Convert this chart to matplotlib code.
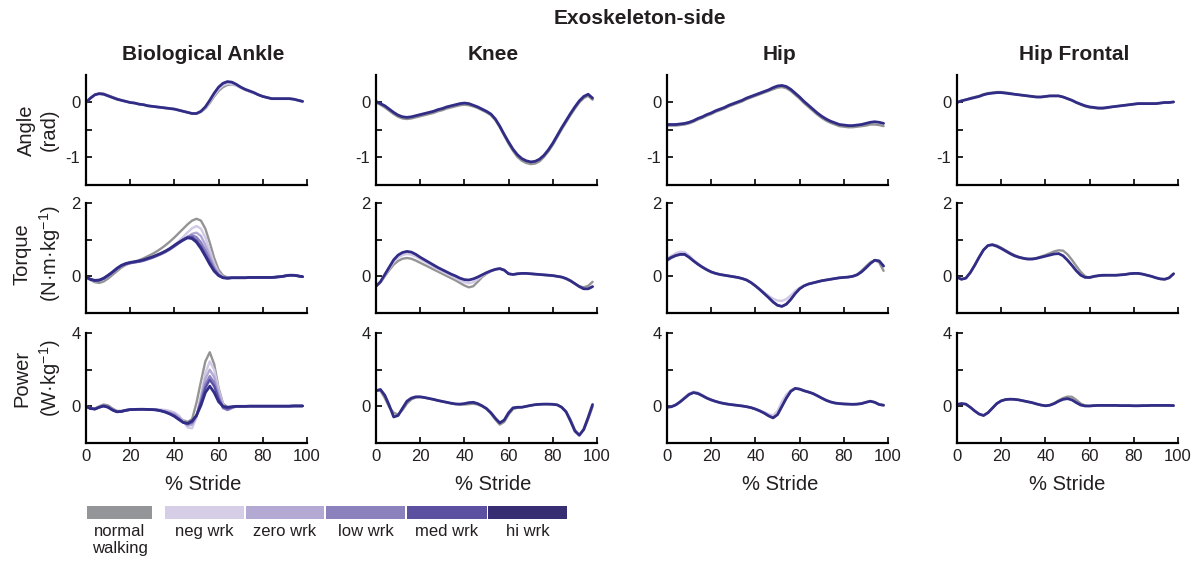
import matplotlib.pyplot as plt
import numpy as np
from matplotlib.patches import Rectangle

plt.rcParams['font.family'] = ['Liberation Sans', 'DejaVu Sans']
plt.rcParams['mathtext.fontset'] = 'custom'
plt.rcParams['mathtext.rm'] = 'Liberation Sans'
plt.rcParams['mathtext.default'] = 'regular'
plt.rcParams['axes.unicode_minus'] = False

TEXT = '#231f20'

# % stride samples, every 2 %
stride = np.arange(0, 100, 2)

legend_labels = ['normal\nwalking', 'neg wrk', 'zero wrk', 'low wrk', 'med wrk', 'hi wrk']
bar_colors = ['#939598', '#d6cde6', '#b3a9d2', '#8b81bc', '#5c50a0', '#372d72']
line_colors = ['#949494', '#d2c9e6', '#b2a8d4', '#8a80c0', '#5a4fa8', '#312c86']

joint_titles = ['Biological Ankle', 'Knee', 'Hip', 'Hip Frontal']
row_labels = ['Angle\n(rad)', 'Torque\n(N·m·kg$^{-1}$)', 'Power\n(W·kg$^{-1}$)']
row_ylims = [(-1.5, 0.5), (-1, 2), (-2, 4)]
row_yticks = [[-1, -0.5, 0], [0, 1, 2], [0, 2, 4]]
row_yticklabels = [['-1', '', '0'], ['0', '', '2'], ['0', '', '4']]
xticks = [0, 20, 40, 60, 80, 100]

# ---- biological ankle ----
ankle_angle_hi = [
    0.00, 0.08, 0.14, 0.16, 0.15, 0.12, 0.09, 0.06, 0.04, 0.02,
    0.00, -0.01, -0.03, -0.04, -0.06, -0.07, -0.08, -0.09, -0.10, -0.11,
    -0.12, -0.14, -0.16, -0.18, -0.20, -0.20, -0.16, -0.08, 0.04, 0.17,
    0.28, 0.35, 0.38, 0.37, 0.33, 0.28, 0.24, 0.21, 0.18, 0.14,
    0.11, 0.09, 0.07, 0.07, 0.07, 0.07, 0.07, 0.06, 0.04, 0.02]
ankle_angle_neg = [
    0.00, 0.08, 0.14, 0.16, 0.15, 0.12, 0.09, 0.06, 0.04, 0.02,
    0.00, -0.01, -0.03, -0.04, -0.06, -0.07, -0.08, -0.09, -0.10, -0.11,
    -0.12, -0.14, -0.16, -0.18, -0.20, -0.20, -0.17, -0.10, 0.01, 0.13,
    0.24, 0.31, 0.34, 0.34, 0.31, 0.27, 0.23, 0.20, 0.17, 0.14,
    0.11, 0.09, 0.07, 0.07, 0.07, 0.07, 0.07, 0.06, 0.04, 0.02]
ankle_angle_normal = [
    0.00, 0.08, 0.14, 0.17, 0.16, 0.13, 0.10, 0.07, 0.04, 0.02,
    0.00, -0.01, -0.03, -0.04, -0.06, -0.07, -0.08, -0.09, -0.10, -0.11,
    -0.12, -0.14, -0.16, -0.18, -0.20, -0.20, -0.17, -0.11, -0.01, 0.11,
    0.21, 0.28, 0.32, 0.33, 0.31, 0.27, 0.23, 0.20, 0.17, 0.14,
    0.11, 0.09, 0.07, 0.07, 0.07, 0.07, 0.07, 0.06, 0.04, 0.02]

ankle_torque_normal = [
    -0.02, -0.10, -0.16, -0.18, -0.14, -0.06, 0.04, 0.14, 0.24, 0.31,
    0.36, 0.40, 0.44, 0.49, 0.55, 0.61, 0.68, 0.76, 0.85, 0.95,
    1.06, 1.18, 1.30, 1.42, 1.52, 1.57, 1.52, 1.30, 0.92, 0.50,
    0.18, 0.02, -0.03, -0.04, -0.04, -0.04, -0.04, -0.03, -0.03, -0.03,
    -0.03, -0.03, -0.03, -0.02, -0.01, 0.01, 0.03, 0.03, 0.01, -0.01]
ankle_torque_neg = [
    -0.02, -0.09, -0.13, -0.12, -0.07, 0.01, 0.10, 0.20, 0.28, 0.33,
    0.36, 0.38, 0.40, 0.43, 0.47, 0.51, 0.56, 0.62, 0.69, 0.77,
    0.86, 0.96, 1.08, 1.20, 1.31, 1.37, 1.30, 1.06, 0.70, 0.35,
    0.10, -0.02, -0.05, -0.04, -0.04, -0.04, -0.04, -0.03, -0.03, -0.03,
    -0.03, -0.03, -0.03, -0.02, -0.01, 0.01, 0.03, 0.03, 0.01, -0.01]
ankle_torque_zero = [
    -0.02, -0.09, -0.13, -0.12, -0.07, 0.01, 0.10, 0.20, 0.28, 0.33,
    0.36, 0.38, 0.40, 0.42, 0.46, 0.50, 0.55, 0.60, 0.66, 0.73,
    0.81, 0.90, 0.99, 1.08, 1.16, 1.19, 1.10, 0.86, 0.56, 0.27,
    0.07, -0.03, -0.05, -0.04, -0.04, -0.04, -0.04, -0.03, -0.03, -0.03,
    -0.03, -0.03, -0.03, -0.02, -0.01, 0.01, 0.03, 0.03, 0.01, -0.01]
ankle_torque_low = [
    -0.02, -0.09, -0.12, -0.11, -0.06, 0.02, 0.10, 0.20, 0.28, 0.33,
    0.36, 0.38, 0.40, 0.43, 0.47, 0.51, 0.56, 0.61, 0.67, 0.74,
    0.82, 0.91, 1.00, 1.08, 1.12, 1.07, 0.93, 0.71, 0.46, 0.22,
    0.05, -0.03, -0.05, -0.04, -0.04, -0.04, -0.04, -0.03, -0.03, -0.03,
    -0.03, -0.03, -0.03, -0.02, -0.01, 0.01, 0.03, 0.03, 0.01, -0.01]
ankle_torque_med = [
    -0.02, -0.08, -0.12, -0.11, -0.06, 0.02, 0.11, 0.21, 0.29, 0.34,
    0.37, 0.39, 0.41, 0.44, 0.48, 0.52, 0.57, 0.62, 0.68, 0.75,
    0.85, 0.93, 1.01, 1.07, 1.07, 0.98, 0.82, 0.60, 0.38, 0.17,
    0.03, -0.04, -0.05, -0.04, -0.04, -0.04, -0.04, -0.03, -0.03, -0.03,
    -0.03, -0.03, -0.03, -0.02, -0.01, 0.01, 0.03, 0.03, 0.01, -0.01]
ankle_torque_hi = [
    -0.02, -0.08, -0.11, -0.10, -0.05, 0.03, 0.12, 0.22, 0.30, 0.35,
    0.38, 0.40, 0.42, 0.45, 0.49, 0.53, 0.58, 0.63, 0.69, 0.76,
    0.84, 0.92, 0.99, 1.05, 1.03, 0.93, 0.76, 0.55, 0.33, 0.14,
    0.02, -0.04, -0.05, -0.04, -0.04, -0.04, -0.04, -0.03, -0.03, -0.03,
    -0.03, -0.03, -0.03, -0.02, -0.01, 0.01, 0.03, 0.03, 0.01, -0.01]

ankle_power_normal = [
    0.00, -0.10, -0.12, 0.00, 0.10, 0.05, -0.12, -0.25, -0.25, -0.20,
    -0.17, -0.16, -0.16, -0.16, -0.16, -0.16, -0.18, -0.22, -0.28, -0.36,
    -0.46, -0.60, -0.76, -0.85, -0.70, 0.20, 1.35, 2.45, 2.95, 2.30,
    1.00, 0.15, -0.05, -0.05, 0.00, 0.00, 0.00, 0.01, 0.01, 0.01,
    0.01, 0.01, 0.01, 0.01, 0.01, 0.01, 0.01, 0.02, 0.02, 0.02]
ankle_power_neg = [
    0.00, -0.11, -0.14, -0.04, 0.03, -0.04, -0.18, -0.28, -0.27, -0.21,
    -0.17, -0.16, -0.16, -0.16, -0.16, -0.16, -0.17, -0.18, -0.20, -0.25,
    -0.33, -0.50, -0.80, -1.15, -1.20, -0.60, 0.60, 1.80, 2.45, 2.00,
    0.90, 0.10, -0.15, -0.08, 0.00, 0.00, 0.00, 0.01, 0.01, 0.01,
    0.01, 0.01, 0.01, 0.01, 0.01, 0.01, 0.01, 0.02, 0.02, 0.02]
ankle_power_zero = [
    0.00, -0.11, -0.14, -0.04, 0.03, -0.04, -0.19, -0.29, -0.27, -0.21,
    -0.17, -0.16, -0.16, -0.16, -0.16, -0.17, -0.19, -0.22, -0.27, -0.33,
    -0.40, -0.58, -0.85, -1.05, -1.00, -0.55, 0.45, 1.50, 2.00, 1.60,
    0.70, 0.00, -0.20, -0.10, 0.00, 0.00, 0.00, 0.01, 0.01, 0.01,
    0.01, 0.01, 0.01, 0.01, 0.01, 0.01, 0.01, 0.02, 0.02, 0.02]
ankle_power_low = [
    0.00, -0.12, -0.15, -0.05, 0.02, -0.05, -0.20, -0.30, -0.28, -0.22,
    -0.18, -0.17, -0.16, -0.16, -0.17, -0.18, -0.20, -0.24, -0.30, -0.38,
    -0.48, -0.65, -0.87, -0.98, -0.90, -0.50, 0.30, 1.20, 1.65, 1.30,
    0.50, -0.10, -0.20, -0.08, 0.00, 0.00, 0.00, 0.01, 0.01, 0.01,
    0.01, 0.01, 0.01, 0.01, 0.01, 0.01, 0.01, 0.02, 0.02, 0.02]
ankle_power_med = [
    0.00, -0.12, -0.15, -0.05, 0.02, -0.05, -0.20, -0.30, -0.28, -0.22,
    -0.18, -0.17, -0.16, -0.16, -0.17, -0.18, -0.20, -0.25, -0.32, -0.41,
    -0.52, -0.70, -0.88, -0.95, -0.85, -0.50, 0.20, 1.00, 1.45, 1.10,
    0.40, -0.05, -0.12, -0.05, 0.00, 0.00, 0.00, 0.01, 0.01, 0.01,
    0.01, 0.01, 0.01, 0.01, 0.01, 0.01, 0.01, 0.02, 0.02, 0.02]
ankle_power_hi = [
    0.00, -0.12, -0.15, -0.05, 0.02, -0.05, -0.20, -0.30, -0.28, -0.22,
    -0.18, -0.17, -0.16, -0.16, -0.17, -0.18, -0.20, -0.25, -0.32, -0.42,
    -0.55, -0.72, -0.88, -0.93, -0.80, -0.50, 0.05, 0.75, 1.10, 0.75,
    0.25, 0.00, -0.05, -0.02, 0.00, 0.00, 0.00, 0.01, 0.01, 0.01,
    0.01, 0.01, 0.01, 0.01, 0.01, 0.01, 0.01, 0.02, 0.02, 0.02]

# ---- knee ----
knee_angle_normal = [
    0.00, -0.04, -0.09, -0.15, -0.21, -0.26, -0.29, -0.30, -0.29, -0.27,
    -0.25, -0.23, -0.21, -0.19, -0.16, -0.14, -0.11, -0.09, -0.07, -0.05,
    -0.04, -0.05, -0.07, -0.10, -0.14, -0.18, -0.23, -0.32, -0.45, -0.60,
    -0.75, -0.88, -0.99, -1.06, -1.10, -1.12, -1.11, -1.07, -0.99, -0.89,
    -0.77, -0.63, -0.49, -0.36, -0.23, -0.11, 0.00, 0.08, 0.12, 0.05]
knee_angle_hi = [
    0.02, -0.02, -0.06, -0.12, -0.18, -0.23, -0.26, -0.27, -0.26, -0.24,
    -0.22, -0.20, -0.18, -0.16, -0.13, -0.11, -0.08, -0.06, -0.04, -0.02,
    -0.01, -0.02, -0.05, -0.08, -0.12, -0.16, -0.21, -0.30, -0.43, -0.58,
    -0.72, -0.85, -0.95, -1.02, -1.06, -1.08, -1.07, -1.03, -0.96, -0.86,
    -0.74, -0.60, -0.46, -0.33, -0.20, -0.08, 0.03, 0.11, 0.15, 0.08]

knee_torque_normal = [
    -0.27, -0.17, 0.00, 0.17, 0.32, 0.42, 0.48, 0.50, 0.48, 0.43,
    0.37, 0.31, 0.25, 0.19, 0.13, 0.07, 0.01, -0.05, -0.11, -0.18,
    -0.25, -0.30, -0.27, -0.15, -0.02, 0.07, 0.14, 0.19, 0.22, 0.17,
    0.07, 0.05, 0.07, 0.08, 0.08, 0.07, 0.06, 0.05, 0.04, 0.03,
    0.02, 0.00, -0.02, -0.07, -0.13, -0.20, -0.27, -0.30, -0.26, -0.15]
knee_torque_neg = [
    -0.27, -0.16, 0.02, 0.21, 0.39, 0.51, 0.58, 0.61, 0.59, 0.54,
    0.47, 0.40, 0.33, 0.26, 0.19, 0.13, 0.07, 0.01, -0.05, -0.11,
    -0.16, -0.19, -0.16, -0.08, 0.01, 0.08, 0.14, 0.19, 0.21, 0.17,
    0.07, 0.05, 0.07, 0.08, 0.08, 0.07, 0.06, 0.05, 0.04, 0.03,
    0.02, 0.00, -0.02, -0.06, -0.12, -0.20, -0.28, -0.34, -0.34, -0.28]
knee_torque_hi = [
    -0.27, -0.15, 0.05, 0.25, 0.45, 0.58, 0.65, 0.68, 0.66, 0.60,
    0.52, 0.45, 0.38, 0.31, 0.24, 0.18, 0.12, 0.06, 0.01, -0.05,
    -0.09, -0.10, -0.07, -0.02, 0.04, 0.10, 0.15, 0.19, 0.21, 0.17,
    0.07, 0.05, 0.07, 0.08, 0.08, 0.07, 0.06, 0.05, 0.04, 0.03,
    0.02, 0.00, -0.02, -0.06, -0.12, -0.20, -0.28, -0.34, -0.34, -0.28]

knee_power_normal = [
    0.85, 0.85, 0.45, -0.05, -0.35, -0.45, -0.20, 0.15, 0.38, 0.48,
    0.50, 0.47, 0.42, 0.37, 0.31, 0.26, 0.21, 0.16, 0.12, 0.10,
    0.10, 0.12, 0.14, 0.10, 0.00, -0.15, -0.40, -0.72, -1.00, -0.85,
    -0.45, -0.15, -0.08, -0.05, 0.00, 0.05, 0.09, 0.11, 0.12, 0.12,
    0.11, 0.08, -0.04, -0.28, -0.72, -1.28, -1.55, -1.30, -0.70, -0.02]
knee_power_hi = [
    0.85, 0.92, 0.60, 0.05, -0.58, -0.50, -0.10, 0.28, 0.45, 0.52,
    0.52, 0.48, 0.43, 0.38, 0.32, 0.27, 0.22, 0.17, 0.13, 0.12,
    0.15, 0.20, 0.22, 0.15, 0.03, -0.12, -0.35, -0.65, -0.90, -0.75,
    -0.35, -0.08, -0.05, -0.05, 0.00, 0.05, 0.09, 0.11, 0.12, 0.12,
    0.11, 0.08, -0.05, -0.30, -0.80, -1.35, -1.58, -1.25, -0.60, 0.10]

# ---- hip ----
hip_angle_normal = [
    -0.42, -0.42, -0.42, -0.41, -0.40, -0.38, -0.35, -0.31, -0.28, -0.24,
    -0.21, -0.17, -0.14, -0.11, -0.07, -0.04, -0.01, 0.02, 0.06, 0.09,
    0.12, 0.15, 0.18, 0.21, 0.24, 0.27, 0.28, 0.26, 0.21, 0.14,
    0.07, -0.01, -0.08, -0.15, -0.22, -0.28, -0.33, -0.37, -0.40, -0.43,
    -0.44, -0.45, -0.45, -0.44, -0.43, -0.42, -0.40, -0.40, -0.41, -0.43]
hip_angle_hi = [
    -0.40, -0.40, -0.40, -0.39, -0.38, -0.36, -0.33, -0.29, -0.26, -0.22,
    -0.19, -0.15, -0.12, -0.09, -0.05, -0.02, 0.01, 0.04, 0.08, 0.11,
    0.14, 0.17, 0.20, 0.23, 0.27, 0.30, 0.31, 0.29, 0.24, 0.17,
    0.10, 0.02, -0.05, -0.12, -0.19, -0.25, -0.30, -0.34, -0.37, -0.40,
    -0.41, -0.42, -0.42, -0.41, -0.40, -0.38, -0.36, -0.35, -0.36, -0.38]

hip_torque_normal = [
    0.42, 0.50, 0.56, 0.59, 0.59, 0.52, 0.42, 0.33, 0.25, 0.18,
    0.12, 0.08, 0.05, 0.03, 0.01, -0.01, -0.03, -0.06, -0.10, -0.17,
    -0.26, -0.36, -0.47, -0.58, -0.70, -0.79, -0.82, -0.76, -0.63, -0.47,
    -0.34, -0.26, -0.21, -0.18, -0.15, -0.12, -0.10, -0.08, -0.06, -0.04,
    -0.03, -0.02, 0.00, 0.05, 0.15, 0.27, 0.38, 0.44, 0.38, 0.15]
hip_torque_neg = [
    0.47, 0.56, 0.63, 0.67, 0.66, 0.57, 0.45, 0.35, 0.26, 0.19,
    0.12, 0.08, 0.05, 0.03, 0.01, -0.01, -0.03, -0.06, -0.10, -0.17,
    -0.26, -0.35, -0.44, -0.53, -0.61, -0.66, -0.67, -0.62, -0.52, -0.40,
    -0.31, -0.25, -0.21, -0.18, -0.15, -0.12, -0.10, -0.08, -0.06, -0.04,
    -0.03, -0.02, 0.00, 0.04, 0.12, 0.23, 0.35, 0.44, 0.42, 0.28]
hip_torque_hi = [
    0.45, 0.52, 0.57, 0.60, 0.60, 0.52, 0.42, 0.33, 0.25, 0.18,
    0.12, 0.08, 0.05, 0.03, 0.01, -0.01, -0.03, -0.06, -0.10, -0.17,
    -0.26, -0.36, -0.47, -0.58, -0.70, -0.79, -0.82, -0.76, -0.63, -0.47,
    -0.34, -0.26, -0.21, -0.18, -0.15, -0.12, -0.10, -0.08, -0.06, -0.04,
    -0.03, -0.02, 0.00, 0.04, 0.12, 0.23, 0.35, 0.44, 0.42, 0.28]

hip_power_neg = [
    -0.05, -0.02, 0.09, 0.28, 0.50, 0.70, 0.80, 0.75, 0.62, 0.48,
    0.37, 0.28, 0.21, 0.15, 0.11, 0.08, 0.05, 0.02, -0.02, -0.07,
    -0.14, -0.22, -0.32, -0.42, -0.50, -0.25, 0.25, 0.65, 0.88, 0.98,
    0.94, 0.85, 0.78, 0.70, 0.58, 0.45, 0.33, 0.24, 0.18, 0.15,
    0.13, 0.12, 0.11, 0.12, 0.15, 0.22, 0.28, 0.22, 0.10, 0.06]
hip_power_hi = [
    -0.05, -0.02, 0.08, 0.25, 0.45, 0.65, 0.75, 0.70, 0.58, 0.45,
    0.35, 0.27, 0.20, 0.15, 0.11, 0.08, 0.05, 0.02, -0.02, -0.07,
    -0.15, -0.25, -0.37, -0.52, -0.63, -0.45, 0.00, 0.45, 0.82, 0.98,
    0.94, 0.85, 0.78, 0.70, 0.58, 0.45, 0.33, 0.24, 0.18, 0.15,
    0.13, 0.12, 0.11, 0.12, 0.15, 0.22, 0.28, 0.22, 0.10, 0.06]

# ---- hip frontal ----
hipf_angle_normal = [
    0.00, 0.03, 0.05, 0.08, 0.10, 0.12, 0.15, 0.17, 0.18, 0.19,
    0.19, 0.18, 0.17, 0.15, 0.14, 0.13, 0.12, 0.11, 0.10, 0.10,
    0.11, 0.12, 0.12, 0.12, 0.10, 0.07, 0.04, 0.00, -0.04, -0.07,
    -0.09, -0.10, -0.11, -0.11, -0.10, -0.08, -0.07, -0.06, -0.05, -0.04,
    -0.03, -0.02, -0.02, -0.02, -0.02, -0.02, -0.01, 0.00, 0.00, 0.01]
hipf_angle_hi = [
    0.00, 0.03, 0.05, 0.07, 0.09, 0.11, 0.14, 0.16, 0.17, 0.18,
    0.18, 0.17, 0.16, 0.15, 0.14, 0.13, 0.12, 0.11, 0.10, 0.10,
    0.11, 0.12, 0.12, 0.12, 0.10, 0.07, 0.04, 0.00, -0.03, -0.06,
    -0.08, -0.09, -0.10, -0.10, -0.09, -0.08, -0.07, -0.06, -0.05, -0.04,
    -0.03, -0.02, -0.02, -0.02, -0.02, -0.02, -0.01, 0.00, 0.00, 0.01]

hipf_torque_normal = [
    -0.02, -0.08, -0.05, 0.10, 0.30, 0.52, 0.72, 0.84, 0.87, 0.84,
    0.78, 0.71, 0.64, 0.58, 0.53, 0.50, 0.48, 0.48, 0.50, 0.54,
    0.58, 0.63, 0.68, 0.71, 0.70, 0.60, 0.45, 0.28, 0.12, 0.00,
    -0.04, -0.01, 0.01, 0.02, 0.03, 0.03, 0.03, 0.04, 0.05, 0.07,
    0.08, 0.08, 0.06, 0.03, 0.00, -0.04, -0.07, -0.08, -0.04, 0.07]
hipf_torque_hi = [
    -0.02, -0.08, -0.05, 0.10, 0.30, 0.52, 0.72, 0.84, 0.86, 0.82,
    0.76, 0.69, 0.62, 0.56, 0.52, 0.49, 0.47, 0.47, 0.49, 0.52,
    0.55, 0.58, 0.61, 0.62, 0.56, 0.44, 0.30, 0.15, 0.03, -0.03,
    -0.03, 0.00, 0.02, 0.03, 0.03, 0.03, 0.03, 0.04, 0.05, 0.07,
    0.08, 0.08, 0.06, 0.03, 0.00, -0.04, -0.07, -0.08, -0.04, 0.07]

hipf_power_normal = [
    0.10, 0.15, 0.12, -0.05, -0.25, -0.42, -0.50, -0.35, -0.10, 0.15,
    0.30, 0.37, 0.39, 0.38, 0.35, 0.30, 0.25, 0.20, 0.13, 0.07,
    0.03, 0.07, 0.18, 0.32, 0.45, 0.53, 0.52, 0.35, 0.15, 0.04,
    0.02, 0.04, 0.05, 0.05, 0.05, 0.05, 0.05, 0.04, 0.04, 0.04,
    0.03, 0.03, 0.04, 0.04, 0.05, 0.05, 0.05, 0.05, 0.05, 0.04]
hipf_power_hi = [
    0.10, 0.15, 0.12, -0.05, -0.25, -0.42, -0.50, -0.35, -0.10, 0.15,
    0.30, 0.37, 0.39, 0.38, 0.35, 0.30, 0.25, 0.20, 0.13, 0.07,
    0.03, 0.06, 0.15, 0.28, 0.38, 0.42, 0.35, 0.20, 0.07, 0.02,
    0.02, 0.04, 0.05, 0.05, 0.05, 0.05, 0.05, 0.04, 0.04, 0.04,
    0.03, 0.03, 0.04, 0.04, 0.05, 0.05, 0.05, 0.05, 0.05, 0.04]

# condition index -> curve, per panel (rows: angle, torque, power)
panels = [
    [{0: ankle_angle_normal, 1: ankle_angle_neg, 5: ankle_angle_hi},
     {0: knee_angle_normal, 5: knee_angle_hi},
     {0: hip_angle_normal, 5: hip_angle_hi},
     {0: hipf_angle_normal, 5: hipf_angle_hi}],
    [{0: ankle_torque_normal, 1: ankle_torque_neg, 2: ankle_torque_zero,
      3: ankle_torque_low, 4: ankle_torque_med, 5: ankle_torque_hi},
     {0: knee_torque_normal, 1: knee_torque_neg, 5: knee_torque_hi},
     {0: hip_torque_normal, 1: hip_torque_neg, 5: hip_torque_hi},
     {0: hipf_torque_normal, 5: hipf_torque_hi}],
    [{0: ankle_power_normal, 1: ankle_power_neg, 2: ankle_power_zero,
      3: ankle_power_low, 4: ankle_power_med, 5: ankle_power_hi},
     {0: knee_power_normal, 5: knee_power_hi},
     {0: hip_power_hi, 1: hip_power_neg, 5: hip_power_hi},
     {0: hipf_power_normal, 5: hipf_power_hi}],
]

W, H = 1200, 567
fig = plt.figure(figsize=(W / 100, H / 100), dpi=100)

col_left = [86, 376, 667, 957]
row_top = [75, 203, 333]
ax_w, ax_h = 221, 110

for r in range(3):
    for c in range(4):
        ax = fig.add_axes([col_left[c] / W, 1 - (row_top[r] + ax_h) / H,
                           ax_w / W, ax_h / H])
        for k, curve in sorted(panels[r][c].items()):
            ax.plot(stride, curve, color=line_colors[k],
                    lw=2.0 if k == 5 else 1.7, solid_capstyle='round')
        ax.set_xlim(0, 100)
        ax.set_ylim(*row_ylims[r])
        ax.set_yticks(row_yticks[r])
        ax.set_yticklabels(row_yticklabels[r])
        ax.set_xticks(xticks)
        if r == 2:
            ax.set_xticklabels([str(t) for t in xticks])
        else:
            ax.set_xticklabels([])
        for side in ['top', 'right']:
            ax.spines[side].set_visible(False)
        for side in ['left', 'bottom']:
            ax.spines[side].set_linewidth(1.6)
            ax.spines[side].set_color('black')
        ax.tick_params(direction='in', length=4, width=1.2, labelsize=12,
                       labelcolor=TEXT, pad=4)
        ax.patch.set_alpha(0)

def fx(px):
    return px / W

def fy(py):
    return 1 - py / H

fig.text(fx(640), fy(18), 'Exoskeleton-side', ha='center', va='center',
         fontsize=15, fontweight='bold', color=TEXT)
for x, title in zip([203, 493, 780, 1074], joint_titles):
    fig.text(fx(x), fy(55), title, ha='center', va='center',
             fontsize=15, fontweight='bold', color=TEXT)
for x in [203, 493, 780, 1067]:
    fig.text(fx(x), fy(484), '% Stride', ha='center', va='center',
             fontsize=14.5, color=TEXT)
for y, label in zip([130, 254, 378], row_labels):
    fig.text(fx(38), fy(y), label, ha='center', va='center', rotation=90,
             fontsize=14.5, color=TEXT, multialignment='center',
             linespacing=1.3)

# colour key below the first columns
leg = fig.add_axes([0, 0, 1, 1])
leg.set_xlim(0, W)
leg.set_ylim(H, 0)
leg.axis('off')
bar_x = [87, 165, 246, 326, 407, 488]
bar_w = [65, 79, 78, 79, 80, 79]
for x0, w, col, label in zip(bar_x, bar_w, bar_colors, legend_labels):
    leg.add_patch(Rectangle((x0, 506), w, 13, facecolor=col, edgecolor='none'))
    leg.text(x0 + w / 2, 524, label, ha='center', va='top', fontsize=12,
             color=TEXT, linespacing=1.2)

fig.savefig('out.png', dpi=100)
